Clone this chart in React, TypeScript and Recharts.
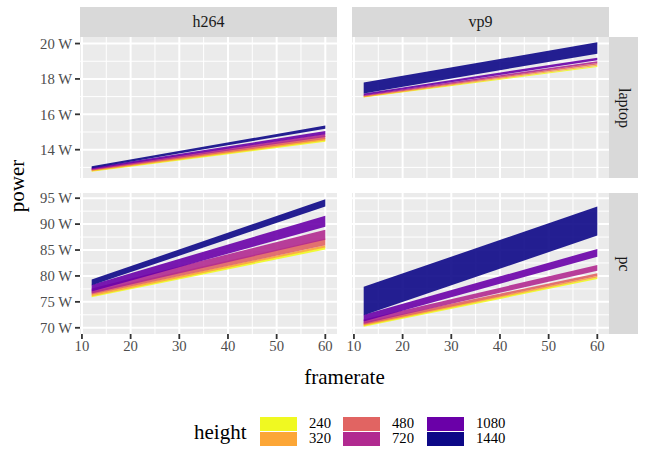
import React from "react";
import { AreaChart, Area, XAxis, YAxis, CartesianGrid } from "recharts";

const framerates = [12, 60];
const heights = [240, 320, 480, 720, 1080, 1440];
const heightColors = ["#F0F921", "#FCA636", "#E16462", "#B12A90", "#6A00A8", "#0D0887"];
const codecs = ["h264", "vp9"];
const devices = ["laptop", "pc"];

// [low, high] power (W) for each height, at framerate 12 and 60
const h264LaptopAt12 = [[12.75, 12.85], [12.78, 12.88], [12.82, 12.92], [12.85, 12.95], [12.9, 13.0], [12.95, 13.06]];
const h264LaptopAt60 = [[14.45, 14.58], [14.52, 14.65], [14.6, 14.78], [14.72, 14.9], [14.88, 15.05], [15.18, 15.37]];
const vp9LaptopAt12 = [[16.95, 17.0], [16.97, 17.03], [17.0, 17.07], [17.03, 17.1], [17.08, 17.18], [17.18, 17.8]];
const vp9LaptopAt60 = [[18.67, 18.73], [18.74, 18.8], [18.82, 18.9], [18.9, 19.0], [19.05, 19.2], [19.43, 20.07]];
const h264PcAt12 = [[75.9, 76.2], [76.1, 76.5], [76.4, 77.0], [76.6, 77.6], [77.0, 78.3], [78.2, 79.3]];
const h264PcAt60 = [[85.1, 85.6], [85.5, 85.9], [85.9, 87.2], [87.0, 88.9], [89.5, 91.6], [93.4, 94.8]];
const vp9PcAt12 = [[70.2, 70.6], [70.4, 70.8], [70.6, 71.1], [70.8, 71.6], [71.2, 72.5], [72.4, 77.9]];
const vp9PcAt60 = [[79.4, 79.7], [79.7, 80.0], [80.0, 80.5], [81.0, 82.1], [83.7, 85.2], [87.8, 93.4]];

const xTicks = [10, 20, 30, 40, 50, 60];
const xMinor = [15, 25, 35, 45, 55];
const laptopTicks = [14, 16, 18, 20];
const laptopMinor = [13, 15, 17, 19];
const pcTicks = [70, 75, 80, 85, 90, 95];
const pcMinor = [72.5, 77.5, 82.5, 87.5, 92.5];

function buildRows(at12: number[][], at60: number[][]) {
  const ends = [at12, at60];
  return framerates.map((f, i) => {
    const row: any = { framerate: f };
    heights.forEach((h, j) => {
      row["h" + h] = ends[i][j];
    });
    return row;
  });
}

const FONT = "'Liberation Serif', 'Times New Roman', serif";
const PANEL_W = 257;
const PANEL_H = 141;
const COL_X = [80, 352];
const ROW_Y = [37, 193];
const PAD = 12;

function Panel(props: {
  data: any[];
  domain: [number, number];
  yTicks: number[];
  yMinor: number[];
  showY: boolean;
  showX: boolean;
  left: number;
  top: number;
}) {
  const { data, domain, yTicks, yMinor, showY, showX, left, top } = props;
  const yW = showY ? 80 : 0;
  const xH = showX ? 32 : 0;
  const tickStyle = { fill: "#4D4D4D", fontSize: 14.7, fontFamily: FONT };
  return (
    <div style={{ position: "absolute", left: left - yW - PAD, top: top - PAD }}>
      <AreaChart
        width={PANEL_W + yW + 2 * PAD}
        height={PANEL_H + xH + 2 * PAD}
        data={data}
        margin={{ top: PAD, right: PAD, bottom: PAD, left: PAD }}
        style={{ fontFamily: FONT }}
      >
        <CartesianGrid
          fill="#EBEBEB"
          stroke="#FFFFFF"
          strokeWidth={1}
          horizontalValues={yMinor}
          verticalValues={xMinor}
        />
        <CartesianGrid
          stroke="#FFFFFF"
          strokeWidth={2}
          horizontalValues={yTicks}
          verticalValues={xTicks}
        />
        <XAxis
          type="number"
          dataKey="framerate"
          domain={[9.6, 62.4]}
          ticks={xTicks}
          allowDataOverflow
          hide={!showX}
          height={xH}
          axisLine={false}
          tickSize={5}
          tickMargin={2}
          tickLine={{ stroke: "#333333", strokeWidth: 1.8 }}
          tick={tickStyle}
          interval={0}
        />
        <YAxis
          type="number"
          domain={domain}
          ticks={yTicks}
          allowDataOverflow
          hide={!showY}
          width={yW}
          axisLine={false}
          tickSize={5}
          tickMargin={3}
          tickLine={{ stroke: "#333333", strokeWidth: 1.8 }}
          tick={tickStyle}
          tickFormatter={(v: number) => `${v} W`}
          interval={0}
        />
        {heights.map((h, j) => (
          <Area
            key={h}
            type="linear"
            dataKey={"h" + h}
            stroke="none"
            fill={heightColors[j]}
            fillOpacity={0.9}
            isAnimationActive={false}
            dot={false}
            activeDot={false}
          />
        ))}
      </AreaChart>
    </div>
  );
}

export default function App() {
  const panels = [
    { codec: 0, device: 0, data: buildRows(h264LaptopAt12, h264LaptopAt60) },
    { codec: 1, device: 0, data: buildRows(vp9LaptopAt12, vp9LaptopAt60) },
    { codec: 0, device: 1, data: buildRows(h264PcAt12, h264PcAt60) },
    { codec: 1, device: 1, data: buildRows(vp9PcAt12, vp9PcAt60) },
  ];
  const legendCols = [
    [0, 1],
    [2, 3],
    [4, 5],
  ];
  const legendKeyX = [260, 343, 427];
  return (
    <div
      style={{
        position: "absolute",
        left: 0,
        top: 0,
        width: 645,
        height: 450,
        background: "#FFFFFF",
        fontFamily: FONT,
        overflow: "hidden",
      }}
    >
      {panels.map((p, i) => (
        <Panel
          key={i}
          data={p.data}
          domain={p.device === 0 ? [12.4, 20.37] : [68.8, 96]}
          yTicks={p.device === 0 ? laptopTicks : pcTicks}
          yMinor={p.device === 0 ? laptopMinor : pcMinor}
          showY={p.codec === 0}
          showX={p.device === 1}
          left={COL_X[p.codec]}
          top={ROW_Y[p.device]}
        />
      ))}
      {codecs.map((c, i) => (
        <div
          key={c}
          style={{
            position: "absolute",
            left: COL_X[i],
            top: 7,
            width: PANEL_W,
            height: 30,
            background: "#D9D9D9",
            color: "#1A1A1A",
            fontSize: 16,
            display: "flex",
            alignItems: "center",
            justifyContent: "center",
          }}
        >
          {c}
        </div>
      ))}
      {devices.map((d, i) => (
        <div
          key={d}
          style={{
            position: "absolute",
            left: 609,
            top: ROW_Y[i],
            width: 29,
            height: PANEL_H,
            background: "#D9D9D9",
            color: "#1A1A1A",
            fontSize: 16,
            display: "flex",
            alignItems: "center",
            justifyContent: "center",
          }}
        >
          <span style={{ transform: "rotate(90deg)", whiteSpace: "nowrap" }}>{d}</span>
        </div>
      ))}
      <div
        style={{
          position: "absolute",
          left: 17 - 40,
          top: 186 - 14,
          width: 80,
          height: 28,
          fontSize: 21,
          color: "#000",
          textAlign: "center",
          lineHeight: "28px",
          transform: "rotate(-90deg)",
        }}
      >
        power
      </div>
      <div
        style={{
          position: "absolute",
          left: 80,
          top: 363,
          width: 529,
          fontSize: 21,
          textAlign: "center",
          lineHeight: "28px",
          color: "#000",
        }}
      >
        framerate
      </div>
      <div
        style={{
          position: "absolute",
          left: 194,
          top: 418,
          fontSize: 21,
          lineHeight: "28px",
          color: "#000",
        }}
      >
        height
      </div>
      {legendCols.map((col, ci) =>
        col.map((j, ri) => (
          <React.Fragment key={heights[j]}>
            <div
              style={{
                position: "absolute",
                left: legendKeyX[ci],
                top: 417 + ri * 15,
                width: 37,
                height: 13.5,
                background: heightColors[j],
              }}
            />
            <div
              style={{
                position: "absolute",
                left: legendKeyX[ci] + 49,
                top: 417 + ri * 15 - 2,
                fontSize: 14.7,
                lineHeight: "17px",
                color: "#000",
              }}
            >
              {heights[j]}
            </div>
          </React.Fragment>
        ))
      )}
    </div>
  );
}
